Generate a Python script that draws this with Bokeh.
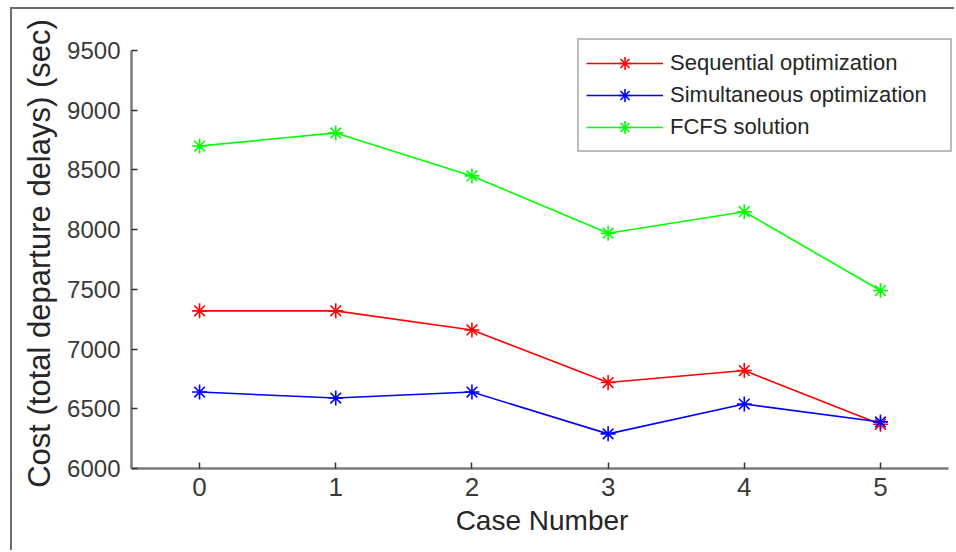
from bokeh.plotting import figure
from bokeh.models import Range1d, FixedTicker, Legend, LegendItem
from bokeh.embed import file_html
from bokeh.resources import INLINE

cases = [0, 1, 2, 3, 4, 5]
sequential = [7320, 7320, 7160, 6720, 6820, 6370]
simultaneous = [6640, 6590, 6640, 6290, 6540, 6390]
fcfs = [8700, 8810, 8450, 7970, 8150, 7490]
y_ticks = [6000, 6500, 7000, 7500, 8000, 8500, 9000, 9500]
series_names = ["Sequential optimization", "Simultaneous optimization", "FCFS solution"]
series_colors = ["#ff0000", "#0000ff", "#00ff00"]

# frame slightly larger than the axes so the legend box is not clipped
p = figure(width=944, height=543,
           x_range=Range1d(-0.5, 5.529), y_range=Range1d(6000, 9600.5),
           output_backend="svg", toolbar_location=None,
           min_border_left=119, min_border_right=4,
           min_border_top=29, min_border_bottom=84)
p.styles = {"border-left": "2px solid #6e6e6e", "border-top": "2px solid #6e6e6e",
            "margin-left": "10px", "margin-top": "7px"}

p.outline_line_color = None
p.grid.visible = False
p.background_fill_color = "white"
p.border_fill_color = "white"

items = []
for name, vals, col in zip(series_names, [sequential, simultaneous, fcfs], series_colors):
    l = p.line(cases, vals, line_color=col, line_width=1.6)
    s = p.scatter(cases, vals, marker="asterisk", size=15, line_color=col, line_width=1.6)
    items.append(LegendItem(label=name, renderers=[l, s]))

for ax in (p.xaxis[0], p.yaxis[0]):
    ax.axis_line_color = "#7a7a7a"
    ax.axis_line_width = 2.5
    ax.major_tick_line_color = "#333333"
    ax.major_tick_line_width = 1.5
    ax.major_tick_in = 6
    ax.major_tick_out = 0
    ax.minor_tick_line_color = None
    ax.major_label_text_font = "Liberation Sans"
    ax.major_label_text_color = "#3a3a3a"
    ax.axis_label_text_font = "Liberation Sans"
    ax.axis_label_text_font_style = "normal"
    ax.axis_label_text_color = "#262626"

p.yaxis.bounds = (6000, 9500)
p.xaxis.bounds = (-0.5, 5.5)
p.xaxis.ticker = FixedTicker(ticks=cases)
p.yaxis.ticker = FixedTicker(ticks=y_ticks)
p.xaxis.major_label_text_font_size = "26px"
p.yaxis.major_label_text_font_size = "24px"
p.xaxis.major_label_standoff = 9
p.yaxis.major_label_standoff = 11
p.xaxis.axis_label = "Case Number"
p.yaxis.axis_label = "Cost (total departure delays) (sec)"
p.xaxis.axis_label_text_font_size = "28px"
p.yaxis.axis_label_text_font_size = "31px"
p.xaxis.axis_label_standoff = 6
p.yaxis.axis_label_standoff = 7

legend = Legend(items=items, location=(446, 316))
legend.label_text_font = "Liberation Sans"
legend.label_text_font_size = "22px"
legend.label_text_color = "#262626"
legend.glyph_width = 77
legend.glyph_height = 32
legend.label_height = 32
legend.label_width = 273
legend.label_standoff = 7
legend.spacing = 0
legend.padding = 7
legend.margin = 0
legend.border_line_color = "#7a7a7a"
legend.border_line_width = 2
legend.background_fill_color = "white"
legend.background_fill_alpha = 1
p.add_layout(legend, "center")

open("out.html", "w").write(file_html(p, INLINE))
